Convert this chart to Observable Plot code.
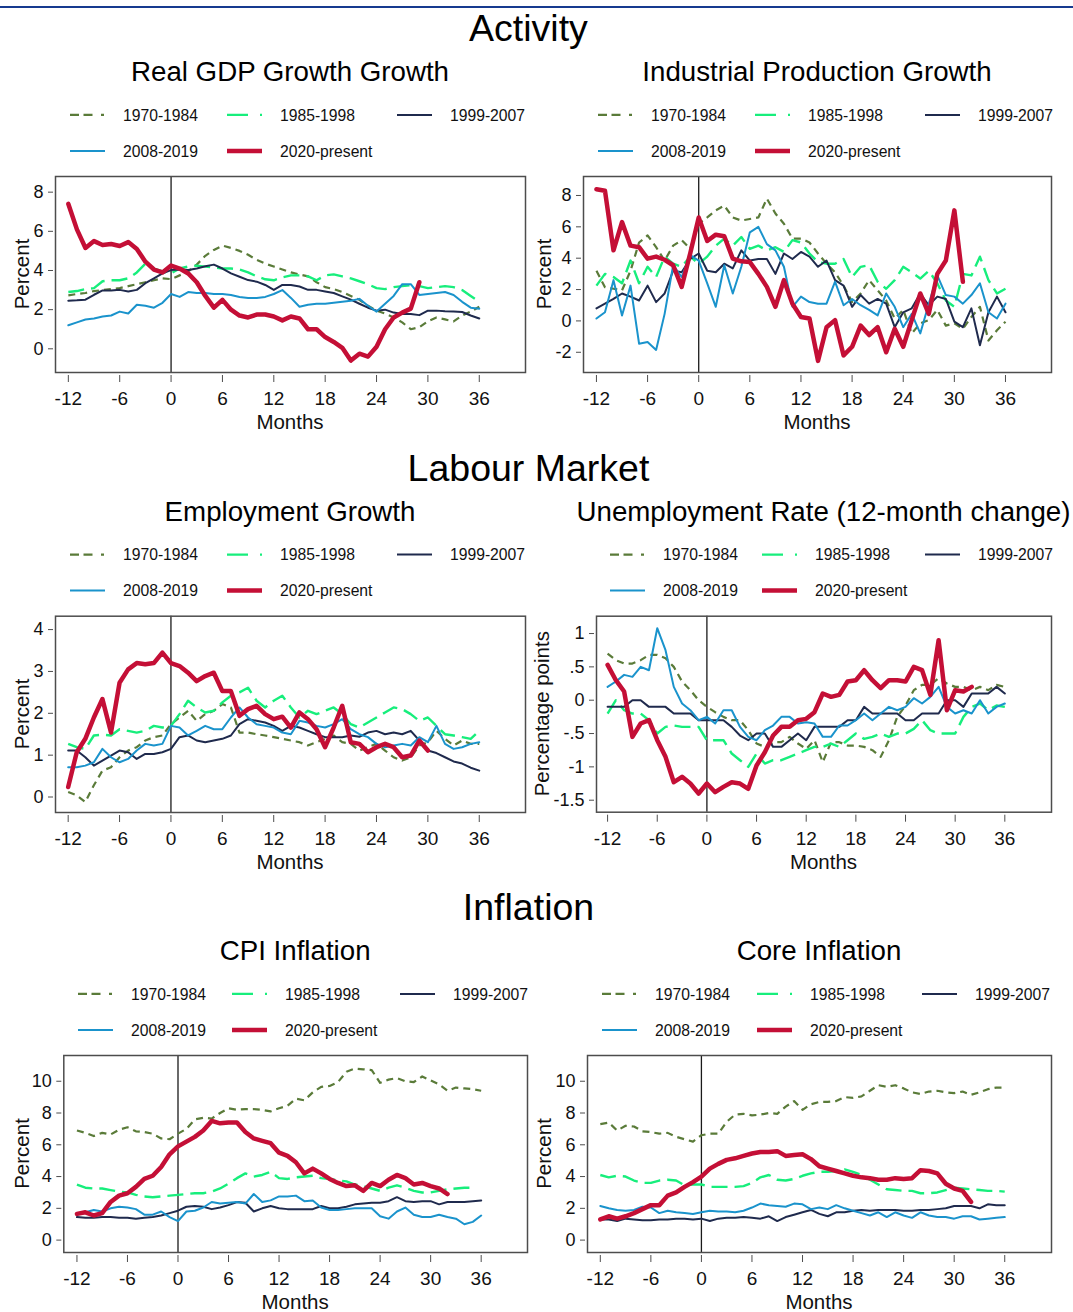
<!DOCTYPE html>
<html><head><meta charset="utf-8">
<script src="https://cdn.jsdelivr.net/npm/d3@7"></script>
<script src="https://cdn.jsdelivr.net/npm/@observablehq/plot@0.6"></script>
<style>
html,body{margin:0;padding:0;background:#fff;}
#page{position:relative;width:1073px;height:1312px;overflow:hidden;font-family:Arial,"Liberation Sans",Helvetica,sans-serif;}
#page svg{position:absolute;}
</style></head><body><div id="page"></div>
<script>
// ---------- data ----------
const months = [-12,-11,-10,-9,-8,-7,-6,-5,-4,-3,-2,-1,0,1,2,3,4,5,6,7,8,9,10,11,12,13,14,15,16,17,18,19,20,21,22,23,24,25,26,27,28,29,30,31,32,33,34,35,36];
const xTicks = [-12,-6,0,6,12,18,24,30,36];
const periods = ["1970-1984","1985-1998","1999-2007","2008-2019","2020-present"];

// Real GDP growth
const gdp_1970 = [2.73,2.8,2.85,2.95,3.0,3.05,3.1,3.2,3.3,3.4,3.5,3.6,3.56,3.75,3.95,4.3,4.75,5.05,5.27,5.15,5.0,4.8,4.55,4.35,4.2,4.05,3.9,3.8,3.7,3.4,3.15,3.05,2.9,2.7,2.5,2.2,1.95,1.8,1.6,1.35,1.0,1.1,1.4,1.6,1.5,1.4,1.7,1.9,2.15];
const gdp_1985 = [2.9,2.95,3.05,3.1,3.45,3.5,3.5,3.6,3.9,4.35,4.1,3.95,3.85,4.1,4.2,4.25,4.2,4.15,4.1,4.1,4.05,3.9,3.7,3.55,3.5,3.65,3.75,3.75,3.7,3.5,3.75,3.8,3.7,3.6,3.45,3.3,3.1,3.05,3.15,3.2,3.25,3.2,3.1,3.15,3.2,3.15,3.0,2.7,2.4];
const gdp_1999 = [2.46,2.48,2.51,2.76,2.98,2.98,3.01,2.93,3.01,3.35,3.6,3.85,4.02,4.05,4.02,4.1,4.22,4.3,4.1,3.85,3.68,3.51,3.43,3.26,3.01,3.26,3.26,3.18,3.01,3.01,2.93,2.85,2.68,2.51,2.3,2.1,1.95,2.0,1.85,1.78,1.78,1.72,1.95,1.95,1.92,1.9,1.88,1.7,1.55];
const gdp_2008 = [1.2,1.35,1.5,1.55,1.65,1.7,1.9,1.8,2.25,2.2,2.1,2.35,2.8,2.65,2.9,2.85,2.85,2.8,2.8,2.75,2.65,2.6,2.6,2.65,2.8,3.0,2.6,2.15,2.25,2.3,2.3,2.35,2.4,2.45,2.55,2.2,1.9,2.3,2.7,3.3,3.3,2.75,2.8,2.85,2.9,2.75,2.4,2.1,2.05];
const gdp_2020 = [7.4,6.1,5.15,5.5,5.3,5.35,5.25,5.45,5.1,4.45,4.05,3.9,4.25,4.1,3.85,3.4,2.7,2.1,2.5,2.0,1.7,1.6,1.75,1.75,1.65,1.45,1.65,1.55,1.0,1.0,0.6,0.35,0.05,-0.6,-0.25,-0.4,0.1,1.0,1.6,1.85,2.05,3.4];

// Industrial production growth
const ip_1970 = [3.2,2.15,2.05,1.95,3.2,5.0,5.45,4.7,3.85,4.8,5.15,4.6,6.2,6.6,7.05,7.35,6.6,6.4,6.5,6.6,7.8,6.85,6.2,5.25,5.25,5.0,4.3,3.65,3.1,2.25,1.2,1.75,2.6,1.95,1.3,0.15,0.7,-0.8,-0.15,0.05,0.7,-0.3,-0.15,-0.5,0.25,0.9,-1.25,-0.6,-0.05];
const ip_1985 = [2.25,3.0,2.8,2.4,3.85,2.4,3.45,2.8,4.1,3.65,3.45,4.1,3.65,4.1,4.8,5.25,4.8,5.35,4.6,4.8,4.5,4.7,4.4,5.15,5.0,4.3,3.75,3.65,3.65,3.95,2.8,3.45,3.55,2.5,2.05,2.6,3.45,3.1,2.7,3.2,2.4,1.3,0.9,3.0,2.9,4.1,2.6,1.75,2.05];
const ip_1999 = [0.8,1.1,1.4,1.75,1.55,1.3,2.25,1.2,1.75,3.2,3.1,3.95,4.3,3.2,3.1,3.65,3.35,4.5,3.85,3.95,3.95,3.0,4.3,3.95,4.4,4.1,3.45,3.85,2.6,2.25,0.9,1.65,1.1,1.4,1.1,-0.4,0.55,0.8,1.75,1.0,1.55,1.4,-0.05,-0.4,0.8,-1.55,0.55,1.55,0.55];
const ip_2008 = [0.15,0.55,2.6,0.35,2.25,-1.45,-1.35,-1.85,0.45,3.55,2.8,4.2,3.85,2.4,0.9,3.55,1.75,3.45,5.65,6.0,4.9,4.5,3.45,0.9,1.55,1.2,1.1,1.1,2.5,1.0,1.4,1.0,0.7,0.35,1.75,0.9,-0.4,0.45,-0.8,1.1,2.9,1.65,1.55,1.1,1.65,2.4,0.55,0.15,1.1];
const ip_2020 = [8.4,8.3,4.5,6.3,4.8,4.7,3.97,4.1,3.9,3.55,2.17,4.3,6.6,5.1,5.5,5.4,3.97,3.8,3.75,3.0,2.17,0.9,2.6,1.1,0.25,0.15,-2.55,-0.4,0.05,-2.2,-1.65,-0.3,-0.9,-0.4,-2.0,-0.5,-1.65,0.05,1.75,0.45,3.0,3.85,7.05,2.5];

// Employment growth
const emp_1970 = [0.12,0.04,-0.12,0.28,0.63,0.71,0.95,1.11,1.19,1.35,1.43,1.47,1.74,1.9,2.06,1.82,1.98,2.06,2.22,2.14,1.54,1.54,1.5,1.47,1.43,1.39,1.35,1.31,1.23,1.31,1.39,1.47,1.31,1.27,1.11,1.19,1.27,1.11,0.95,0.87,0.95,1.23,1.31,1.58,1.39,1.23,1.35,1.27,1.27];
const emp_1985 = [1.27,1.19,1.15,1.47,1.49,1.47,1.62,1.58,1.54,1.58,1.7,1.66,1.7,1.98,2.3,2.14,2.02,2.06,2.26,2.42,2.5,2.61,2.3,2.14,2.3,2.42,2.14,1.9,2.06,1.98,2.06,2.14,1.98,1.74,1.66,1.78,1.9,2.02,2.14,2.1,1.98,1.82,1.9,1.7,1.5,1.47,1.43,1.39,1.58];
const emp_1999 = [1.11,1.11,0.95,0.75,0.87,0.99,1.11,1.07,0.91,1.03,1.03,1.07,1.15,1.43,1.47,1.35,1.31,1.35,1.39,1.47,1.74,1.86,1.82,1.78,1.7,1.58,1.7,1.66,1.58,1.5,1.43,1.43,1.43,1.47,1.44,1.54,1.58,1.5,1.54,1.5,1.58,1.35,1.11,1.05,0.95,0.85,0.8,0.7,0.63];
const emp_2008 = [0.71,0.71,0.75,0.83,1.15,0.95,0.83,0.91,1.11,1.27,1.23,1.27,1.7,1.66,1.47,1.58,1.7,1.62,1.62,1.9,2.14,1.9,1.74,1.7,1.66,1.54,1.5,1.82,1.78,1.7,1.66,1.74,1.86,1.62,1.5,1.43,1.27,1.19,1.23,1.27,1.23,1.43,1.31,1.7,1.27,1.15,1.19,1.27,1.31];
const emp_2020 = [0.24,1.07,1.39,1.9,2.34,1.54,2.73,3.05,3.2,3.17,3.2,3.45,3.2,3.13,2.97,2.77,2.89,2.97,2.53,2.53,1.94,2.1,2.18,1.98,1.86,1.92,1.66,2.02,1.86,1.62,1.19,1.66,2.18,1.31,1.27,1.07,1.19,1.27,1.19,0.95,0.99,1.35,1.11];

// Unemployment rate, 12-month change
const un_1970 = [0.7,0.6,0.55,0.55,0.6,0.68,0.68,0.63,0.5,0.28,0.15,0.0,-0.1,-0.18,-0.25,-0.3,-0.3,-0.45,-0.65,-0.7,-0.63,-0.63,-0.55,-0.65,-0.73,-0.6,-0.93,-0.63,-0.63,-0.68,-0.68,-0.7,-0.75,-0.85,-0.6,-0.25,-0.08,0.15,0.23,0.23,0.33,0.25,0.2,0.2,0.15,0.2,0.15,0.23,0.2];
const un_1985 = [-0.2,0.0,-0.15,-0.2,-0.2,-0.3,-0.5,-0.4,-0.38,-0.4,-0.4,-0.4,-0.6,-0.6,-0.6,-0.8,-0.9,-1.0,-0.8,-0.95,-0.9,-0.9,-0.85,-0.8,-0.75,-0.7,-0.7,-0.65,-0.7,-0.6,-0.5,-0.58,-0.55,-0.5,-0.55,-0.5,-0.5,-0.43,-0.3,-0.45,-0.5,-0.5,-0.5,-0.25,-0.1,-0.05,-0.15,-0.08,-0.1];
const un_1999 = [-0.1,-0.1,-0.1,0,0,-0.1,-0.1,-0.1,-0.2,-0.2,-0.2,-0.3,-0.3,-0.3,-0.3,-0.4,-0.53,-0.6,-0.5,-0.5,-0.7,-0.7,-0.6,-0.5,-0.6,-0.4,-0.4,-0.4,-0.4,-0.3,-0.3,-0.1,-0.2,-0.2,-0.2,-0.2,-0.3,-0.3,-0.2,-0.2,-0.2,0,0,-0.1,0.1,0.1,0.1,0.2,0.1];
const un_2008 = [0.2,0.28,0.38,0.35,0.5,0.45,1.08,0.75,0.2,-0.05,-0.15,-0.3,-0.25,-0.35,-0.15,-0.15,-0.4,-0.55,-0.6,-0.45,-0.38,-0.25,-0.25,-0.35,-0.33,-0.35,-0.55,-0.55,-0.38,-0.38,-0.3,-0.2,-0.3,-0.2,-0.1,-0.15,-0.1,0.03,-0.05,0.05,0.2,-0.1,-0.2,-0.15,-0.2,0.0,-0.2,-0.1,-0.05];
const un_2020 = [0.53,0.3,0.13,-0.55,-0.35,-0.3,-0.6,-0.85,-1.23,-1.15,-1.25,-1.4,-1.25,-1.38,-1.3,-1.23,-1.25,-1.33,-0.98,-0.78,-0.53,-0.4,-0.4,-0.3,-0.28,-0.18,0.1,0.05,0.08,0.28,0.3,0.45,0.3,0.18,0.3,0.3,0.28,0.5,0.45,0.08,0.9,-0.15,0.15,0.13,0.2];

// CPI inflation
const cpi_1970 = [6.9,6.75,6.55,6.75,6.65,6.95,7.1,6.85,6.8,6.7,6.4,6.35,6.7,7.0,7.6,7.7,7.65,8.0,8.3,8.2,8.25,8.25,8.2,8.1,8.3,8.45,8.9,8.8,9.3,9.65,9.7,9.95,10.6,10.8,10.75,10.7,9.9,10.1,10.2,10.0,9.95,10.3,10.05,9.8,9.4,9.6,9.55,9.5,9.4];
const cpi_1985 = [3.5,3.3,3.25,3.25,3.15,3.05,3.0,2.85,2.75,2.7,2.75,2.8,2.85,2.9,2.95,2.95,3.05,3.25,3.55,3.9,4.2,4.0,4.1,4.3,3.9,3.85,3.95,4.0,4.05,3.9,3.85,3.75,3.7,3.5,3.4,3.25,3.1,3.3,3.45,3.3,3.1,3.0,3.0,3.1,3.2,3.25,3.3,3.3];
const cpi_1999 = [1.45,1.4,1.4,1.45,1.45,1.4,1.4,1.35,1.4,1.45,1.55,1.7,1.85,2.1,2.15,2.1,1.95,2.05,2.2,2.4,2.35,1.8,2.0,2.15,2.0,1.95,1.95,1.95,1.95,2.15,2.0,2.0,2.1,2.25,2.3,2.35,2.35,2.45,2.7,2.45,2.4,2.45,2.45,2.25,2.4,2.4,2.4,2.45,2.5];
const cpi_2008 = [1.6,1.75,1.9,1.8,2.0,2.1,2.05,1.95,1.6,1.6,1.8,1.45,1.2,1.8,1.85,2.05,2.4,2.3,2.35,2.4,2.3,2.9,2.4,2.5,2.75,2.75,2.8,2.45,2.5,2.05,1.9,1.9,1.95,2.0,2.0,2.0,1.5,1.35,1.8,2.05,1.6,1.45,1.45,1.6,1.45,1.35,1.0,1.15,1.55];
const cpi_2020 = [1.65,1.75,1.55,1.7,2.4,2.8,2.95,3.35,3.85,4.05,4.6,5.4,5.9,6.2,6.5,6.9,7.5,7.35,7.4,7.4,6.8,6.4,6.25,6.1,5.5,5.3,4.9,4.2,4.5,4.2,3.85,3.6,3.4,3.45,3.1,3.6,3.4,3.8,4.1,3.9,3.5,3.6,3.4,3.25,2.9];

// Core inflation
const core_1970 = [7.3,7.4,6.9,7.2,7.15,6.85,6.8,6.7,6.75,6.5,6.35,6.2,6.6,6.7,6.7,7.45,7.9,7.95,7.85,7.9,8.0,7.95,8.4,8.75,8.2,8.55,8.7,8.7,8.75,9.0,8.95,9.05,9.4,9.75,9.65,9.75,9.55,9.3,9.2,9.35,9.4,9.3,9.25,9.35,9.15,9.3,9.5,9.6,9.6];
const core_1985 = [4.1,3.95,4.05,4.0,3.75,3.6,3.6,3.75,3.8,3.75,3.45,3.5,3.5,3.35,3.35,3.35,3.35,3.4,3.6,3.95,4.1,3.8,3.75,3.85,4.05,4.2,4.3,4.3,4.35,4.45,4.3,4.1,3.8,3.5,3.2,3.15,3.1,3.1,2.95,2.95,3.0,3.15,3.3,3.25,3.2,3.15,3.1,3.1,3.05];
const core_1999 = [1.3,1.3,1.2,1.35,1.3,1.25,1.25,1.3,1.3,1.35,1.35,1.3,1.35,1.2,1.35,1.4,1.4,1.45,1.4,1.35,1.5,1.2,1.45,1.6,1.75,1.9,1.65,1.5,1.75,1.75,1.85,1.9,1.85,1.9,1.9,1.9,1.85,1.85,1.9,1.9,1.95,2.0,2.15,2.15,2.15,2.0,2.25,2.2,2.2];
const core_2008 = [2.15,2.0,1.9,1.85,1.9,2.1,2.05,1.7,1.85,1.75,1.7,1.65,1.75,1.85,1.8,1.8,1.75,1.85,2.05,2.3,2.2,2.15,2.1,2.3,2.25,1.95,2.05,1.95,2.2,2.0,1.85,1.7,1.55,1.75,1.45,1.75,1.55,1.4,1.75,1.55,1.45,1.45,1.35,1.5,1.5,1.3,1.35,1.4,1.45];
const core_2020 = [1.3,1.5,1.35,1.5,1.7,1.95,2.2,2.2,2.8,3.0,3.35,3.65,4.0,4.5,4.8,5.05,5.15,5.3,5.45,5.55,5.55,5.6,5.3,5.35,5.4,5.1,4.65,4.5,4.35,4.2,4.05,3.95,3.9,3.8,3.8,3.9,3.85,3.9,4.4,4.35,4.2,3.55,3.25,3.1,2.4];

const sectionTitles = ["Activity","Labour Market","Inflation"];
const panelTitles = ["Real GDP Growth Growth","Industrial Production Growth","Employment Growth","Unemployment Rate (12-month change)","CPI Inflation","Core Inflation"];
const yTitles = ["Percent","Percent","Percent","Percentage points","Percent","Percent"];
const yTickSets = [[0,2,4,6,8],[-2,0,2,4,6,8],[0,1,2,3,4],[-1.5,-1,-0.5,0,0.5,1],[0,2,4,6,8,10],[0,2,4,6,8,10]];
const xLabel = "Months";

// ---------- styles ----------
const colors = ["#5a7b39","#17ee7c","#1f2a4d","#1a93cc","#c40f36"];
const widths = [2.2, 2.4, 2, 2, 4.5];
const dashes = ["7,5","16,7",null,null,null];
const legendDashes = ["9,4.5,9,8.5,3,200","21,12,3,200",null,null,null];
const FONT = "Arial, 'Liberation Sans', Helvetica, sans-serif";

// ---------- layout ----------
const panelSeries = [
  [gdp_1970,gdp_1985,gdp_1999,gdp_2008,gdp_2020],
  [ip_1970,ip_1985,ip_1999,ip_2008,ip_2020],
  [emp_1970,emp_1985,emp_1999,emp_2008,emp_2020],
  [un_1970,un_1985,un_1999,un_2008,un_2020],
  [cpi_1970,cpi_1985,cpi_1999,cpi_2008,cpi_2020],
  [core_1970,core_1985,core_1999,core_2008,core_2020]
];
const layout = [
  {L:55,  R:525,  T:176,   B:372,   xd:[-13.5,41.4],  yd:[-1.21,8.8],  leg:[70,227,397],  ytx:29},
  {L:583, R:1051, T:176,   B:372,   xd:[-13.52,41.4], yd:[-3.29,9.21], leg:[598,755,925], ytx:551},
  {L:55,  R:525,  T:615.7, B:812,   xd:[-13.48,41.4], yd:[-0.37,4.32], leg:[70,227,397],  ytx:29},
  {L:596, R:1051, T:615.7, B:811.7, xd:[-13.34,41.64],yd:[-1.68,1.26], leg:[610,762,925], ytx:549},
  {L:63.3,R:527,  T:1055,  B:1252,  xd:[-13.56,41.5], yd:[-0.78,11.62],leg:[78,232,400],  ytx:29},
  {L:587, R:1051, T:1055,  B:1252,  xd:[-13.52,41.55],yd:[-0.78,11.62],leg:[602,757,922], ytx:551}
];

const fmt = d => { let s = String(d); if (s.startsWith("0.")) s = s.slice(1); else if (s.startsWith("-0.")) s = "-" + s.slice(2); return s; };

const page = document.getElementById("page");

layout.forEach((p, k) => {
  const left = p.L < 535;
  const sx = left ? 0 : 535, W = left ? 535 : 538;
  const sy = Math.round(p.T) - 10, H = Math.round(p.B - p.T) + 10 + 45;
  const marks = [
    Plot.ruleX([0], {stroke: "#1a1a1a", strokeWidth: 1.3})
  ];
  panelSeries[k].forEach((vals, i) => {
    const data = vals.map((v, j) => ({m: months[j], v, period: periods[i]}));
    const o = {x: "m", y: "v", stroke: colors[i], strokeWidth: widths[i]};
    if (dashes[i]) { o.strokeDasharray = dashes[i]; o.strokeLinecap = "butt"; }
    marks.push(Plot.line(data, o));
  });
  marks.push(Plot.frame({stroke: "#4d4d4d", strokeWidth: 1.5}));
  marks.push(Plot.axisX(xTicks, {tickSize: 7, tickPadding: 9, dy: 3, fontSize: 19, stroke: "#4d4d4d", fill: "#111", label: null, tickFormat: fmt}));
  marks.push(Plot.axisY(yTickSets[k], {tickSize: 5, tickPadding: 5, dx: -2, fontSize: 18, stroke: "#4d4d4d", fill: "#111", label: null, tickFormat: fmt}));
  const svg = Plot.plot({
    width: W, height: H,
    marginLeft: p.L - sx, marginRight: sx + W - p.R,
    marginTop: p.T - sy, marginBottom: sy + H - p.B,
    x: {domain: p.xd, label: null},
    y: {domain: p.yd, label: null},
    style: {fontFamily: FONT, fontSize: "18px", color: "#111", background: "transparent", overflow: "visible"},
    marks
  });
  svg.style.left = sx + "px";
  svg.style.top = sy + "px";
  page.appendChild(svg);
});

// ---------- overlay text (titles, legends, axis titles) ----------
const ov = d3.select(page).append("svg").attr("width", 1073).attr("height", 1312)
  .style("left", "0px").style("top", "0px").style("pointer-events", "none")
  .attr("font-family", FONT);

ov.append("line").attr("x1", 0).attr("x2", 1073).attr("y1", 7).attr("y2", 7)
  .attr("stroke", "#173a8f").attr("stroke-width", 2);

[0, 2, 4].forEach((k, s) => {
  ov.append("text").attr("x", 528.5).attr("y", layout[k].T - 135)
    .attr("text-anchor", "middle").attr("font-size", 37.5).attr("fill", "#000").text(sectionTitles[s]);
});

layout.forEach((p, k) => {
  const cx = (p.L + p.R) / 2;
  ov.append("text").attr("x", cx).attr("y", p.T - 95)
    .attr("text-anchor", "middle").attr("font-size", 27.7).attr("fill", "#000").text(panelTitles[k]);
  // legend
  periods.forEach((name, i) => {
    const row = i < 3 ? 0 : 1, col = i < 3 ? i : i - 3;
    const base = p.T - (row === 0 ? 55.5 : 19.5);
    const x0 = p.leg[col];
    const ln = ov.append("line").attr("x1", x0).attr("x2", x0 + 35)
      .attr("y1", base - 5.6).attr("y2", base - 5.6)
      .attr("stroke", colors[i]).attr("stroke-width", widths[i]);
    if (legendDashes[i]) ln.attr("stroke-dasharray", legendDashes[i]);
    ov.append("text").attr("x", x0 + 53).attr("y", base).attr("font-size", 15.7)
      .attr("fill", "#111").text(name);
  });
  // axis titles
  ov.append("text").attr("x", cx).attr("y", p.B + 57).attr("text-anchor", "middle")
    .attr("font-size", 20.5).attr("fill", "#111").text(xLabel);
  const cy = (p.T + p.B) / 2;
  ov.append("text").attr("transform", `translate(${p.ytx},${cy}) rotate(-90)`)
    .attr("text-anchor", "middle").attr("font-size", 20.5).attr("fill", "#111").text(yTitles[k]);
});
</script>
</body></html>
